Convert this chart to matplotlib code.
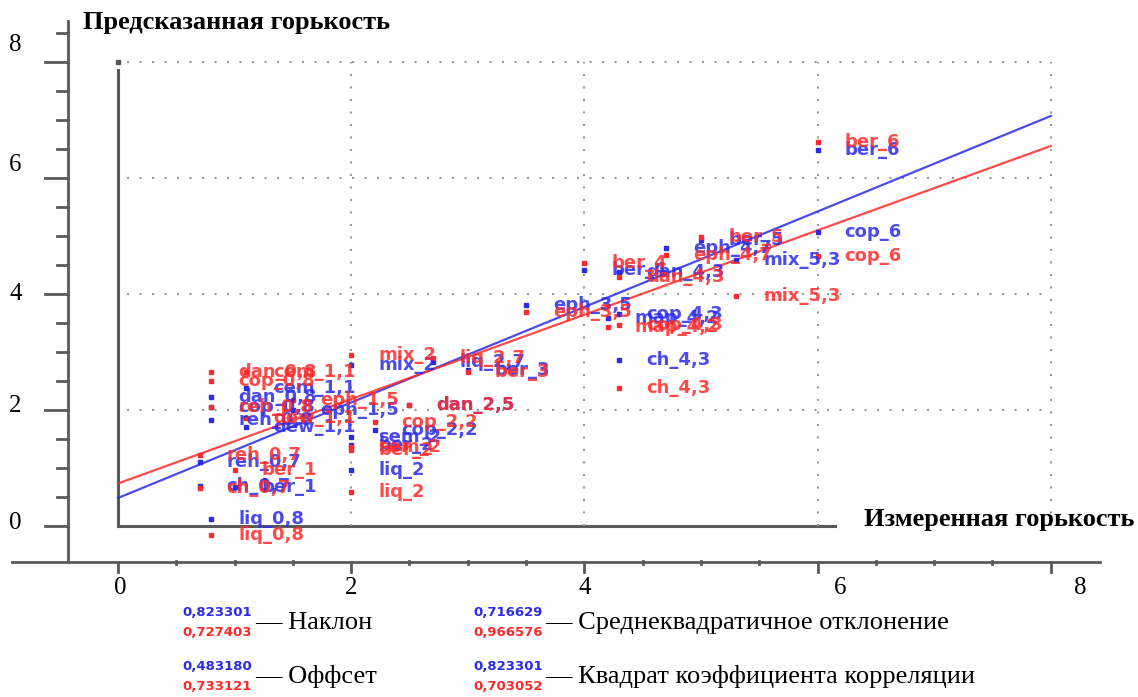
import matplotlib
matplotlib.use("Agg")
import matplotlib.pyplot as plt
import numpy as np

# образцы: имя, измеренная горькость, предсказание (синий / красный)
names = ["liq_0,8", "dan_0,8", "cop_0,8", "reh_0,8", "reh_0,7", "ch_0,7", "ber_1",
         "cem_1,1", "dew_1,1", "eph_1,5", "mix_2", "liq_2,7", "ber_3", "dan_2,5",
         "cop_2,2", "sem_2", "ber_2", "liq_2", "eph_3,5", "cop_4,3", "map_4,2",
         "ch_4,3", "ber_4", "dan_4,3", "eph_4,7", "ber_5", "mix_5,3", "cop_6", "ber_6"]
measured = [0.8, 0.8, 0.8, 0.8, 0.7, 0.7, 1.0,
            1.1, 1.1, 1.5, 2.0, 2.7, 3.0, 2.5,
            2.2, 2.0, 2.0, 2.0, 3.5, 4.3, 4.2,
            4.3, 4.0, 4.3, 4.7, 5.0, 5.3, 6.0, 6.0]
pred_blue = [0.12, 2.22, 2.05, 1.83, 1.10, 0.69, 0.67,
             2.38, 1.71, 2.00, 2.78, 2.83, 2.69, 2.09,
             1.66, 1.53, 1.40, 0.97, 3.81, 3.66, 3.59,
             2.86, 4.41, 4.38, 4.79, 4.93, 4.59, 5.07, 6.48]
pred_red = [-0.16, 2.66, 2.50, 2.05, 1.22, 0.66, 0.97,
            2.66, 1.86, 2.17, 2.95, 2.90, 2.65, 2.09,
            1.79, 1.36, 1.31, 0.59, 3.69, 3.47, 3.43,
            2.38, 4.53, 4.29, 4.67, 4.98, 3.97, 4.66, 6.62]

# параметры регрессии
slope = [0.823301, 0.727403]
offset = [0.483180, 0.733121]
rmse = [0.716629, 0.966576]
r2 = [0.823301, 0.703052]

blue = "#2b2be8"
red = "#ff2a2a"
grid_c = "#9a9a9a"
axis_c = "#5a5a5a"

fig = plt.figure(figsize=(11.38, 6.97), dpi=100)
ax = fig.add_axes([0, 0, 1, 1])
ax.set_xlim(-118 / 116.6, (1138 - 118) / 116.6)
ax.set_ylim(-171 / 58, 526 / 58)
ax.axis("off")

# внешняя рамка осей
ax.plot([-0.43, -0.43], [-0.62, 8.7], color=axis_c, lw=2)
ax.plot([-0.91, 8.42], [-0.62, -0.62], color=axis_c, lw=2)
for v in np.arange(0, 8.51, 0.5):
    if v % 2 == 0:
        ax.plot([-0.63, -0.43], [v, v], color=axis_c, lw=2)
    else:
        ax.plot([-0.52, -0.43], [v, v], color=axis_c, lw=2)
for v in np.arange(0, 8.01, 0.5):
    if v % 2 == 0:
        ax.plot([v, v], [-0.62, -0.8], color=axis_c, lw=2)
    else:
        ax.plot([v, v], [-0.6, -0.66], color=axis_c, lw=2)

for t, yy in zip(["8", "6", "4", "2", "0"], [8.29, 6.22, 4.0, 2.07, 0.05]):
    ax.text(-0.88, yy, t, ha="center", va="center", fontsize=18,
            family="Liberation Serif")
for t, xx in zip(["0", "2", "4", "6", "8"], [0.02, 2.0, 4.0, 6.19, 8.25]):
    ax.text(xx, -1.07, t, ha="center", va="center", fontsize=18,
            family="Liberation Serif")

# внутренняя область
ax.plot([0, 0], [0, 7.86], color=axis_c, lw=2.2)
ax.plot([0, 6.15], [0, 0], color=axis_c, lw=2.2)
ax.plot([0], [8], marker="s", ms=3, color="#555555")
for g in [2, 4, 6, 8]:
    ax.plot([0.08, 8], [g, g], color=grid_c, lw=1.5, ls=(0, (1, 5)))
    ax.plot([g, g], [0, 8], color=grid_c, lw=1.5, ls=(0, (1, 5)))

xs = np.array([0, 8])
ax.plot(xs, offset[0] + slope[0] * xs, color=blue, lw=1.6, alpha=0.85)
ax.plot(xs, offset[1] + slope[1] * xs, color=red, lw=1.6, alpha=0.85)

for preds, c in [(pred_blue, blue), (pred_red, red)]:
    ax.plot(measured, preds, ls="none", marker="s", ms=2.5, color=c)
    for n, x, y in zip(names, measured, preds):
        ax.annotate(n, (x, y), xytext=(19.5, 0), textcoords="offset points",
                    ha="left", va="center", fontsize=13, weight="bold", color=c,
                    family="DejaVu Sans", alpha=0.85)

ax.text(-0.3, 8.68, "Предсказанная горькость", ha="left", va="center",
        fontsize=19, weight="bold", family="Liberation Serif")
ax.text(8.72, 0.12, "Измеренная горькость", ha="right", va="center",
        fontsize=19, weight="bold", family="Liberation Serif")

# подписи статистик внизу
W, H = 1138, 697
stats = [(slope, "— Наклон", 182, 613, 255),
         (offset, "— Оффсет", 182, 667, 255),
         (rmse, "— Среднеквадратичное отклонение", 473, 613, 545),
         (r2, "— Квадрат коэффициента корреляции", 473, 667, 545)]
for vals, title, x0, y0, xt in stats:
    fig.text(x0 / W, 1 - y0 / H, f"{vals[0]:.6f}".replace(".", ","), color=blue,
             fontsize=9.5, weight="bold", family="DejaVu Sans", va="center")
    fig.text(x0 / W, 1 - (y0 + 19) / H, f"{vals[1]:.6f}".replace(".", ","), color=red,
             fontsize=9.5, weight="bold", family="DejaVu Sans", va="center")
    fig.text(xt / W, 1 - (y0 + 10) / H, title, fontsize=19,
             family="Liberation Serif", va="center")

fig.savefig("out.png", dpi=100)
